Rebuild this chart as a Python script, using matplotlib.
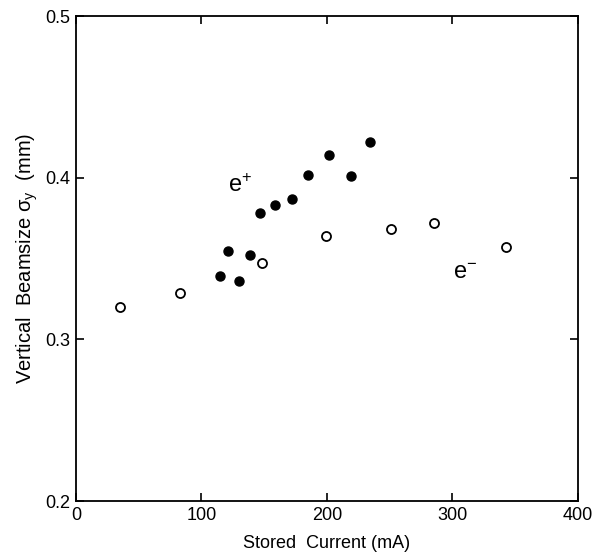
import numpy as np
import matplotlib.pyplot as plt

# e+ (filled) and e- (open) points
pos_current = [115, 121, 130, 139, 147, 159, 172, 185, 202, 219, 234]
pos_size = [0.339, 0.355, 0.336, 0.352, 0.378, 0.383, 0.387, 0.402, 0.414, 0.401, 0.422]

ele_current = [35, 83, 148, 199, 251, 285, 343]
ele_size = [0.320, 0.329, 0.347, 0.364, 0.368, 0.372, 0.357]

xticks = [0, 100, 200, 300, 400]
yticks = [0.2, 0.3, 0.4, 0.5]

plt.rcParams['font.family'] = ['Liberation Sans', 'DejaVu Sans']
plt.rcParams['mathtext.fontset'] = 'custom'
plt.rcParams['mathtext.rm'] = 'Liberation Sans'
plt.rcParams['mathtext.it'] = 'Liberation Sans:italic'

fig = plt.figure(figsize=(5.97, 5.57), dpi=100)
ax = fig.add_axes([0.127, 0.1005, 0.841, 0.8705])

ax.plot(pos_current, pos_size, 'o', color='black', markersize=6.5, linestyle='none')
ax.plot(ele_current, ele_size, 'o', markerfacecolor='white', markeredgecolor='black',
        markeredgewidth=1.3, markersize=6.5, linestyle='none')

ax.text(131, 0.395, r'e$^{+}$', fontsize=17, ha='center', va='center')
ax.text(310, 0.341, r'e$^{-}$', fontsize=17, ha='center', va='center')

ax.set_xlim(0, 400)
ax.set_ylim(0.2, 0.5)
ax.set_xticks(xticks)
ax.set_yticks(yticks)
ax.set_xticklabels([str(t) for t in xticks])
ax.set_yticklabels([f'{t:.1f}' for t in yticks])
ax.tick_params(direction='in', length=6, width=1.2, top=True, right=True,
               labelsize=13, pad=4)
for s in ax.spines.values():
    s.set_linewidth(1.3)

ax.set_xlabel('Stored  Current (mA)', fontsize=13, labelpad=8)
ax.set_ylabel('Vertical  Beamsize $\\mathregular{\\sigma_y}$  (mm)', fontsize=14.5, labelpad=4)

fig.savefig('out.png', dpi=100)
